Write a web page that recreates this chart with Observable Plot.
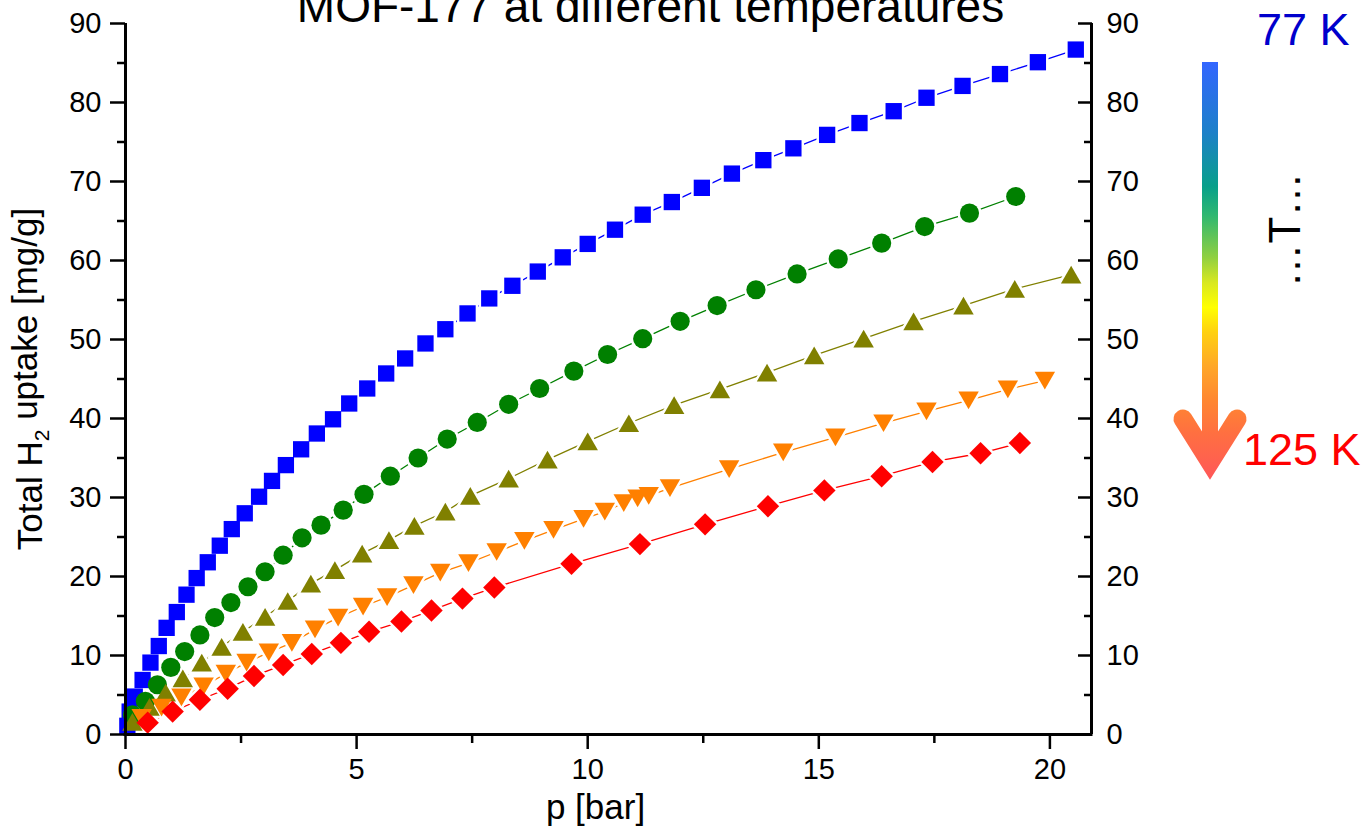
<!DOCTYPE html>
<html><head><meta charset="utf-8">
<script src="https://cdn.jsdelivr.net/npm/d3@7"></script>
<script src="https://cdn.jsdelivr.net/npm/@observablehq/plot@0.6"></script>
<style>
body{margin:0;background:#fff;}
#chart{width:1371px;height:828px;overflow:hidden;background:#fff;}
</style>
</head><body><div id="chart"></div>
<script>
// ---- data ----
const titleText = "MOF-177 at different temperatures";
const xLabel = "p [bar]";
const yLabel = "Total H2 uptake [mg/g]";
const xMajorTicks = [0, 5, 10, 15, 20];
const xMinorTicks = [2.5, 7.5, 12.5, 17.5];
const yMajorTicks = [0, 10, 20, 30, 40, 50, 60, 70, 80, 90];
const yMinorTicks = [5, 15, 25, 35, 45, 55, 65, 75, 85];
const tempTop = "77 K";
const tempBottom = "125 K";

const blueP = [0.04,0.09,0.20,0.37,0.54,0.72,0.89,1.11,1.32,1.54,1.78,2.04,2.30,2.58,2.89,3.17,3.47,3.80,4.14,4.49,4.84,5.23,5.64,6.05,6.49,6.92,7.40,7.87,8.37,8.92,9.46,10.0,10.59,11.19,11.82,12.47,13.12,13.80,14.45,15.18,15.88,16.62,17.33,18.11,18.92,19.74,20.56];
const blueV = [1.1,2.9,4.8,6.9,9.1,11.2,13.5,15.5,17.7,19.8,21.8,23.9,26.0,28.0,30.1,32.1,34.1,36.1,38.1,39.9,41.9,43.8,45.7,47.6,49.5,51.3,53.3,55.2,56.8,58.6,60.4,62.1,63.9,65.8,67.4,69.2,71.0,72.7,74.2,75.9,77.4,78.9,80.6,82.1,83.6,85.1,86.7];

const greenP = [0.15,0.43,0.69,0.98,1.28,1.61,1.93,2.28,2.65,3.02,3.41,3.82,4.23,4.71,5.16,5.73,6.33,6.96,7.61,8.29,8.96,9.70,10.43,11.19,12.0,12.8,13.64,14.53,15.42,16.36,17.29,18.26,19.26];
const greenV = [2.5,4.2,6.3,8.5,10.5,12.6,14.8,16.7,18.7,20.6,22.7,24.9,26.5,28.4,30.4,32.7,35.0,37.4,39.5,41.8,43.8,46.0,48.1,50.1,52.3,54.3,56.3,58.3,60.2,62.2,64.3,66.0,68.1];

const oliveP = [0.15,0.52,0.87,1.24,1.65,2.08,2.54,3.02,3.51,4.01,4.53,5.12,5.70,6.25,6.92,7.46,8.29,9.13,10.0,10.89,11.87,12.86,13.88,14.9,15.97,17.05,18.13,19.24,20.46];
const oliveV = [1.6,3.5,5.3,7.1,9.1,11.1,13.0,14.9,16.9,19.1,20.8,22.9,24.6,26.4,28.2,30.2,32.4,34.8,37.1,39.4,41.7,43.7,45.8,48.0,50.1,52.3,54.3,56.4,58.2];

const orangeP = [0.35,0.78,1.21,1.69,2.17,2.62,3.10,3.60,4.10,4.60,5.14,5.66,6.23,6.81,7.42,8.03,8.63,9.26,9.91,10.37,10.78,11.08,11.32,11.78,13.06,14.23,15.36,16.40,17.33,18.24,19.09,19.89];
const orangeV = [2.1,3.4,4.7,6.1,7.7,9.1,10.4,11.6,13.3,14.8,16.2,17.4,18.9,20.5,21.7,23.1,24.5,25.9,27.3,28.2,29.3,29.9,30.2,31.2,33.6,35.7,37.6,39.4,40.9,42.3,43.7,44.8];

const redP = [0.48,1.02,1.61,2.21,2.78,3.41,4.03,4.66,5.27,5.97,6.62,7.29,7.98,9.65,11.13,12.54,13.90,15.12,16.36,17.46,18.50,19.35];
const redV = [1.5,2.9,4.4,5.8,7.4,8.8,10.2,11.6,13.0,14.3,15.7,17.2,18.6,21.6,24.1,26.6,28.9,30.9,32.7,34.5,35.6,36.9];

// ---- symbols (bbox-centred triangles) ----
const triUp = {draw(ctx, size) {
  const s = Math.sqrt(size * 4 / Math.sqrt(3));
  const h = s * Math.sqrt(3) / 2;
  ctx.moveTo(0, -h / 2); ctx.lineTo(s / 2, h / 2); ctx.lineTo(-s / 2, h / 2); ctx.closePath();
}};
const triDown = {draw(ctx, size) {
  const s = Math.sqrt(size * 4 / Math.sqrt(3));
  const h = s * Math.sqrt(3) / 2;
  ctx.moveTo(0, h / 2); ctx.lineTo(s / 2, -h / 2); ctx.lineTo(-s / 2, -h / 2); ctx.closePath();
}};

const series = [
  {key: "blue",   P: blueP,   V: blueV,   color: "#0000ff", symbol: "square",   r: 9.2},
  {key: "green",  P: greenP,  V: greenV,  color: "#008000", symbol: "circle",   r: 9.6},
  {key: "olive",  P: oliveP,  V: oliveV,  color: "#808000", symbol: triUp,      r: 7.6},
  {key: "orange", P: orangeP, V: orangeV, color: "#ff8000", symbol: triDown,    r: 7.6},
  {key: "red",    P: redP,    V: redV,    color: "#ff0000", symbol: "diamond2", r: 10.1}
];
const rowsOf = s => s.P.map((p, i) => ({p, v: s.V[i]}));

const font = "'Liberation Sans', Arial, Helvetica, sans-serif";
const marks = [];
for (const s of series) marks.push(Plot.line(rowsOf(s), {x: "p", y: "v", stroke: s.color, strokeWidth: 1.3}));
for (const s of series) marks.push(Plot.dot(rowsOf(s), {x: "p", y: "v", symbol: s.symbol, r: s.r, fill: "white", stroke: "white", strokeWidth: 5}));
for (const s of series) marks.push(Plot.dot(rowsOf(s), {x: "p", y: "v", symbol: s.symbol, r: s.r, fill: s.color}));

marks.push(
  Plot.ruleX([0], {strokeWidth: 3, stroke: "black"}),
  Plot.ruleX([20.9], {strokeWidth: 3, stroke: "black"}),
  Plot.ruleY([0], {strokeWidth: 3, stroke: "black", strokeLinecap: "square"}),
  // left axis
  Plot.axisY({anchor: "left", ticks: yMajorTicks, tickSize: 15, tickPadding: 9, fontSize: 29, strokeWidth: 2.5, label: null}),
  Plot.axisY({anchor: "left", ticks: yMinorTicks, tickSize: 8, tickFormat: () => "", strokeWidth: 2.5, label: null}),
  // right axis (ticks inward)
  Plot.axisY({anchor: "right", ticks: yMajorTicks, tickSize: 14, dx: -14, tickFormat: () => "", strokeWidth: 2.5, label: null}),
  Plot.axisY({anchor: "right", ticks: yMinorTicks, tickSize: 8, dx: -8, tickFormat: () => "", strokeWidth: 2.5, label: null}),
  Plot.axisY({anchor: "right", ticks: yMajorTicks, tickSize: 0, tickPadding: 15, fontSize: 29, label: null}),
  // bottom axis
  Plot.axisX({anchor: "bottom", ticks: xMajorTicks, tickSize: 15, tickPadding: 9, fontSize: 29, strokeWidth: 2.5, label: null}),
  Plot.axisX({anchor: "bottom", ticks: xMinorTicks, tickSize: 9, tickFormat: () => "", strokeWidth: 2.5, label: null}),
  // titles
  Plot.text([titleText], {frameAnchor: "top", dx: 42, dy: -2, lineAnchor: "bottom", fontSize: 46, fill: "black"}),
  Plot.text([xLabel], {frameAnchor: "bottom", dx: -13, dy: 84, lineAnchor: "bottom", fontSize: 35, fill: "black"}),
  Plot.text([yLabel], {frameAnchor: "left", textAnchor: "middle", dx: -95, rotate: -90, lineAnchor: "middle", fontSize: 35, fill: "black"})
);

const svg = Plot.plot({
  width: 1371, height: 828,
  marginLeft: 125, marginRight: 280, marginTop: 23, marginBottom: 94,
  x: {domain: [0, 20.9]},
  y: {domain: [0, 90]},
  style: {fontFamily: font, background: "white", color: "black", overflow: "hidden"},
  marks
});
document.getElementById("chart").appendChild(svg);

// subscript in y label
d3.select(svg).selectAll("text").filter(function() { return this.textContent === yLabel; }).each(function() {
  const t = d3.select(this);
  t.text(null);
  t.append("tspan").text("Total H");
  t.append("tspan").attr("dy", "0.35em").attr("font-size", "0.6em").text("2");
  t.append("tspan").attr("dy", "-0.35em").text(" uptake [mg/g]");
});

// ---- temperature arrow legend ----
const defs = d3.select(svg).append("defs");
const grad = defs.append("linearGradient").attr("id", "tgrad")
  .attr("gradientUnits", "userSpaceOnUse").attr("x1", 0).attr("x2", 0).attr("y1", 62).attr("y2", 478);
const stops = [[0,"#3366ff"],[0.17,"#1c80c8"],[0.30,"#08a08a"],[0.37,"#30b870"],[0.47,"#90d040"],[0.53,"#d8e820"],[0.59,"#ffff00"],[0.65,"#ffd010"],[0.73,"#ffa828"],[0.81,"#ff8830"],[0.89,"#ff7040"],[1,"#ff5858"]];
stops.forEach(([o, c]) => grad.append("stop").attr("offset", o).attr("stop-color", c));
const g = d3.select(svg).append("g").attr("font-family", font).attr("text-anchor", "start");
g.append("rect").attr("x", 1202).attr("y", 62).attr("width", 16).attr("height", 398).attr("fill", "url(#tgrad)");
g.append("path").attr("d", "M1183,419 L1210,462 L1237,419").attr("fill", "none")
  .attr("stroke", "url(#tgrad)").attr("stroke-width", 19).attr("stroke-linecap", "round").attr("stroke-linejoin", "miter");
g.append("text").attr("x", 1257).attr("y", 45).attr("font-size", 45).attr("fill", "#0000cc").text(tempTop);
g.append("text").attr("x", 1243).attr("y", 465).attr("font-size", 45).attr("fill", "#ff0000").text(tempBottom);
g.append("text").attr("transform", "translate(1300,230) rotate(-90)").attr("text-anchor", "middle")
  .attr("font-size", 44).attr("fill", "black").text("…T…");
</script>
</body></html>
